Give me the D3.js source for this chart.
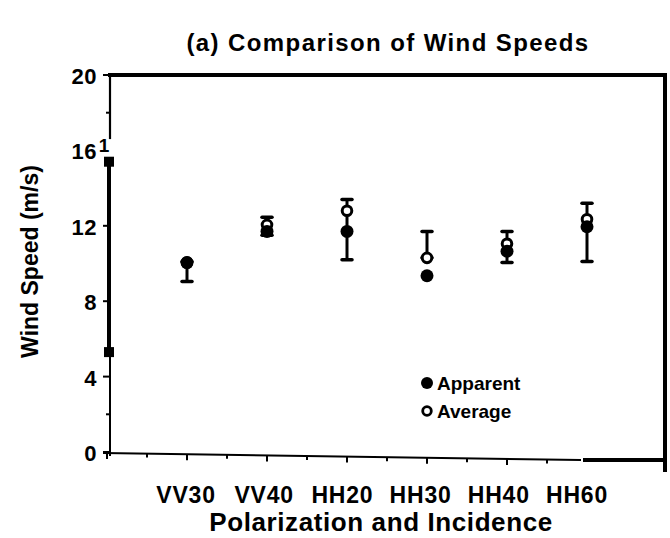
<!DOCTYPE html>
<html>
<head>
<meta charset="utf-8">
<script src="https://cdn.jsdelivr.net/npm/d3@7/dist/d3.min.js"></script>
<style>
  html, body { margin: 0; padding: 0; background: #fff; }
  svg { display: block; font-family: "Liberation Sans", Arial, sans-serif; }
</style>
</head>
<body>
<svg id="chart" width="670" height="538"></svg>
<script>
// ---- data ----
const categories = ["VV30", "VV40", "HH20", "HH30", "HH40", "HH60"];
const apparent   = [10.05, 11.7, 11.7, 9.35, 10.65, 11.95];
const average    = [10.05, 12.05, 12.8, 10.3, 11.05, 12.35];
const errLow     = [9.05, 11.5, 10.2, 10.3, 10.05, 10.1];
const errHigh    = [10.1, 12.45, 13.4, 11.7, 11.7, 13.2];
const yTicks     = [0, 4, 8, 12, 16, 20];
const yMinorTicks = [2, 18];
const sideBar    = [5.3, 15.4];   // thick segment on the left axis, labelled "1"

const svg = d3.select("#chart");
const plotLeft = 110, plotRight = 665, plotTop = 75, plotBottom = 452;

const y = d3.scaleLinear().domain([0, 20]).range([plotBottom, plotTop]);
const x = d3.scalePoint().domain(categories).range([187, 587]);
const xLab = d3.scalePoint().domain(categories).range([186, 577]);

// slight tilt of the scanned bottom axis
const axisY = px => 453 + (px - 105) * (7 / 475);

// Title
svg.append("text").attr("x", 388).attr("y", 51).attr("text-anchor", "middle")
  .attr("font-size", 24).attr("font-weight", "bold").attr("letter-spacing", 1.4)
  .text("(a) Comparison of Wind Speeds");

// frame: top and right
svg.append("line").attr("x1", plotLeft - 2).attr("x2", plotRight + 2).attr("y1", y(20)).attr("y2", y(20))
  .attr("stroke", "#000").attr("stroke-width", 4);
svg.append("line").attr("x1", plotRight).attr("x2", plotRight).attr("y1", y(20) - 2).attr("y2", 472)
  .attr("stroke", "#000").attr("stroke-width", 4);

// left axis (with a gap around the "1" label)
svg.append("line").attr("x1", plotLeft).attr("x2", plotLeft).attr("y1", y(0) + 4).attr("y2", y(sideBar[0]))
  .attr("stroke", "#000").attr("stroke-width", 2);
svg.append("line").attr("x1", plotLeft).attr("x2", plotLeft).attr("y1", y(16.6)).attr("y2", y(20))
  .attr("stroke", "#000").attr("stroke-width", 2.2);
// thick side segment
svg.append("line").attr("x1", plotLeft - 1).attr("x2", plotLeft - 1).attr("y1", y(sideBar[0])).attr("y2", y(sideBar[1]))
  .attr("stroke", "#000").attr("stroke-width", 4);
sideBar.forEach(v => {
  svg.append("rect").attr("x", plotLeft - 6).attr("y", y(v) - 5).attr("width", 10).attr("height", 10).attr("fill", "#000");
});
svg.append("text").attr("x", plotLeft - 6).attr("y", y(sideBar[1]) - 10).attr("text-anchor", "middle")
  .attr("font-size", 19).attr("font-weight", "bold").text("1");

// y ticks
yTicks.forEach(v => {
  if (v !== 16) svg.append("line").attr("x1", plotLeft - 7).attr("x2", plotLeft).attr("y1", y(v)).attr("y2", y(v))
    .attr("stroke", "#000").attr("stroke-width", 2);
  svg.append("text").attr("x", 97).attr("y", y(v) + 9).attr("text-anchor", "end")
    .attr("font-size", 22).attr("font-weight", "bold").attr("letter-spacing", 0.5).text(v);
});
yMinorTicks.forEach(v => {
  svg.append("line").attr("x1", plotLeft - 4).attr("x2", plotLeft).attr("y1", y(v)).attr("y2", y(v))
    .attr("stroke", "#000").attr("stroke-width", 2);
});

// y axis title
svg.append("text").attr("transform", `translate(38,${(y(4)+y(16))/2 - 2}) rotate(-90)`)
  .attr("text-anchor", "middle").attr("font-size", 23).attr("font-weight", "bold").text("Wind Speed (m/s)");

// bottom axis: thin tilted line, then thick straight piece
svg.append("line").attr("x1", 103).attr("x2", 581).attr("y1", axisY(103)).attr("y2", axisY(581))
  .attr("stroke", "#000").attr("stroke-width", 2);
svg.append("line").attr("x1", 583).attr("x2", plotRight).attr("y1", 460).attr("y2", 460)
  .attr("stroke", "#000").attr("stroke-width", 4);
const step = x.step();
const majorX = [x(categories[0]) - step].concat(categories.map(c => x(c)));
majorX.forEach((px, i) => {
  if (i === categories.length) return;
  svg.append("line").attr("x1", px).attr("x2", px).attr("y1", axisY(px)).attr("y2", axisY(px) + 6)
    .attr("stroke", "#000").attr("stroke-width", 2);
  const mx = px + step / 2;
  if (mx < 580) svg.append("line").attr("x1", mx).attr("x2", mx).attr("y1", axisY(mx)).attr("y2", axisY(mx) + 4)
    .attr("stroke", "#000").attr("stroke-width", 2);
});

// category labels
categories.forEach(c => {
  svg.append("text").attr("x", xLab(c)).attr("y", 503).attr("text-anchor", "middle")
    .attr("font-size", 23).attr("font-weight", "bold").attr("letter-spacing", 0.8).text(c);
});
svg.append("text").attr("x", 381).attr("y", 531).attr("text-anchor", "middle")
  .attr("font-size", 26).attr("font-weight", "bold").attr("letter-spacing", 0.6)
  .text("Polarization and Incidence");

// error bars
const g = svg.append("g");
categories.forEach((c, i) => {
  const px = x(c);
  g.append("line").attr("x1", px).attr("x2", px).attr("y1", y(errLow[i])).attr("y2", y(errHigh[i]))
    .attr("stroke", "#000").attr("stroke-width", 3);
  [errLow[i], errHigh[i]].forEach(v => {
    g.append("line").attr("x1", px - 5).attr("x2", px + 5).attr("y1", y(v)).attr("y2", y(v))
      .attr("stroke", "#000").attr("stroke-width", 3.5).attr("stroke-linecap", "round");
  });
});
// average (open) under the filled markers
g.selectAll("circle.avg").data(average).join("circle").attr("class", "avg")
  .attr("cx", (d, i) => x(categories[i])).attr("cy", d => y(d)).attr("r", 4.8)
  .attr("fill", "#fff").attr("stroke", "#000").attr("stroke-width", 3);
// apparent (filled)
g.selectAll("circle.app").data(apparent).join("circle").attr("class", "app")
  .attr("cx", (d, i) => x(categories[i])).attr("cy", d => y(d)).attr("r", 6.5).attr("fill", "#000");

// legend
const lg = svg.append("g");
lg.append("circle").attr("cx", 427).attr("cy", 383).attr("r", 6).attr("fill", "#000");
lg.append("text").attr("x", 437).attr("y", 390).attr("font-size", 19).attr("font-weight", "bold").text("Apparent");
lg.append("circle").attr("cx", 427).attr("cy", 411).attr("r", 4.3).attr("fill", "#fff").attr("stroke", "#000").attr("stroke-width", 2.8);
lg.append("text").attr("x", 437).attr("y", 418).attr("font-size", 19).attr("font-weight", "bold").text("Average");
</script>
</body>
</html>
